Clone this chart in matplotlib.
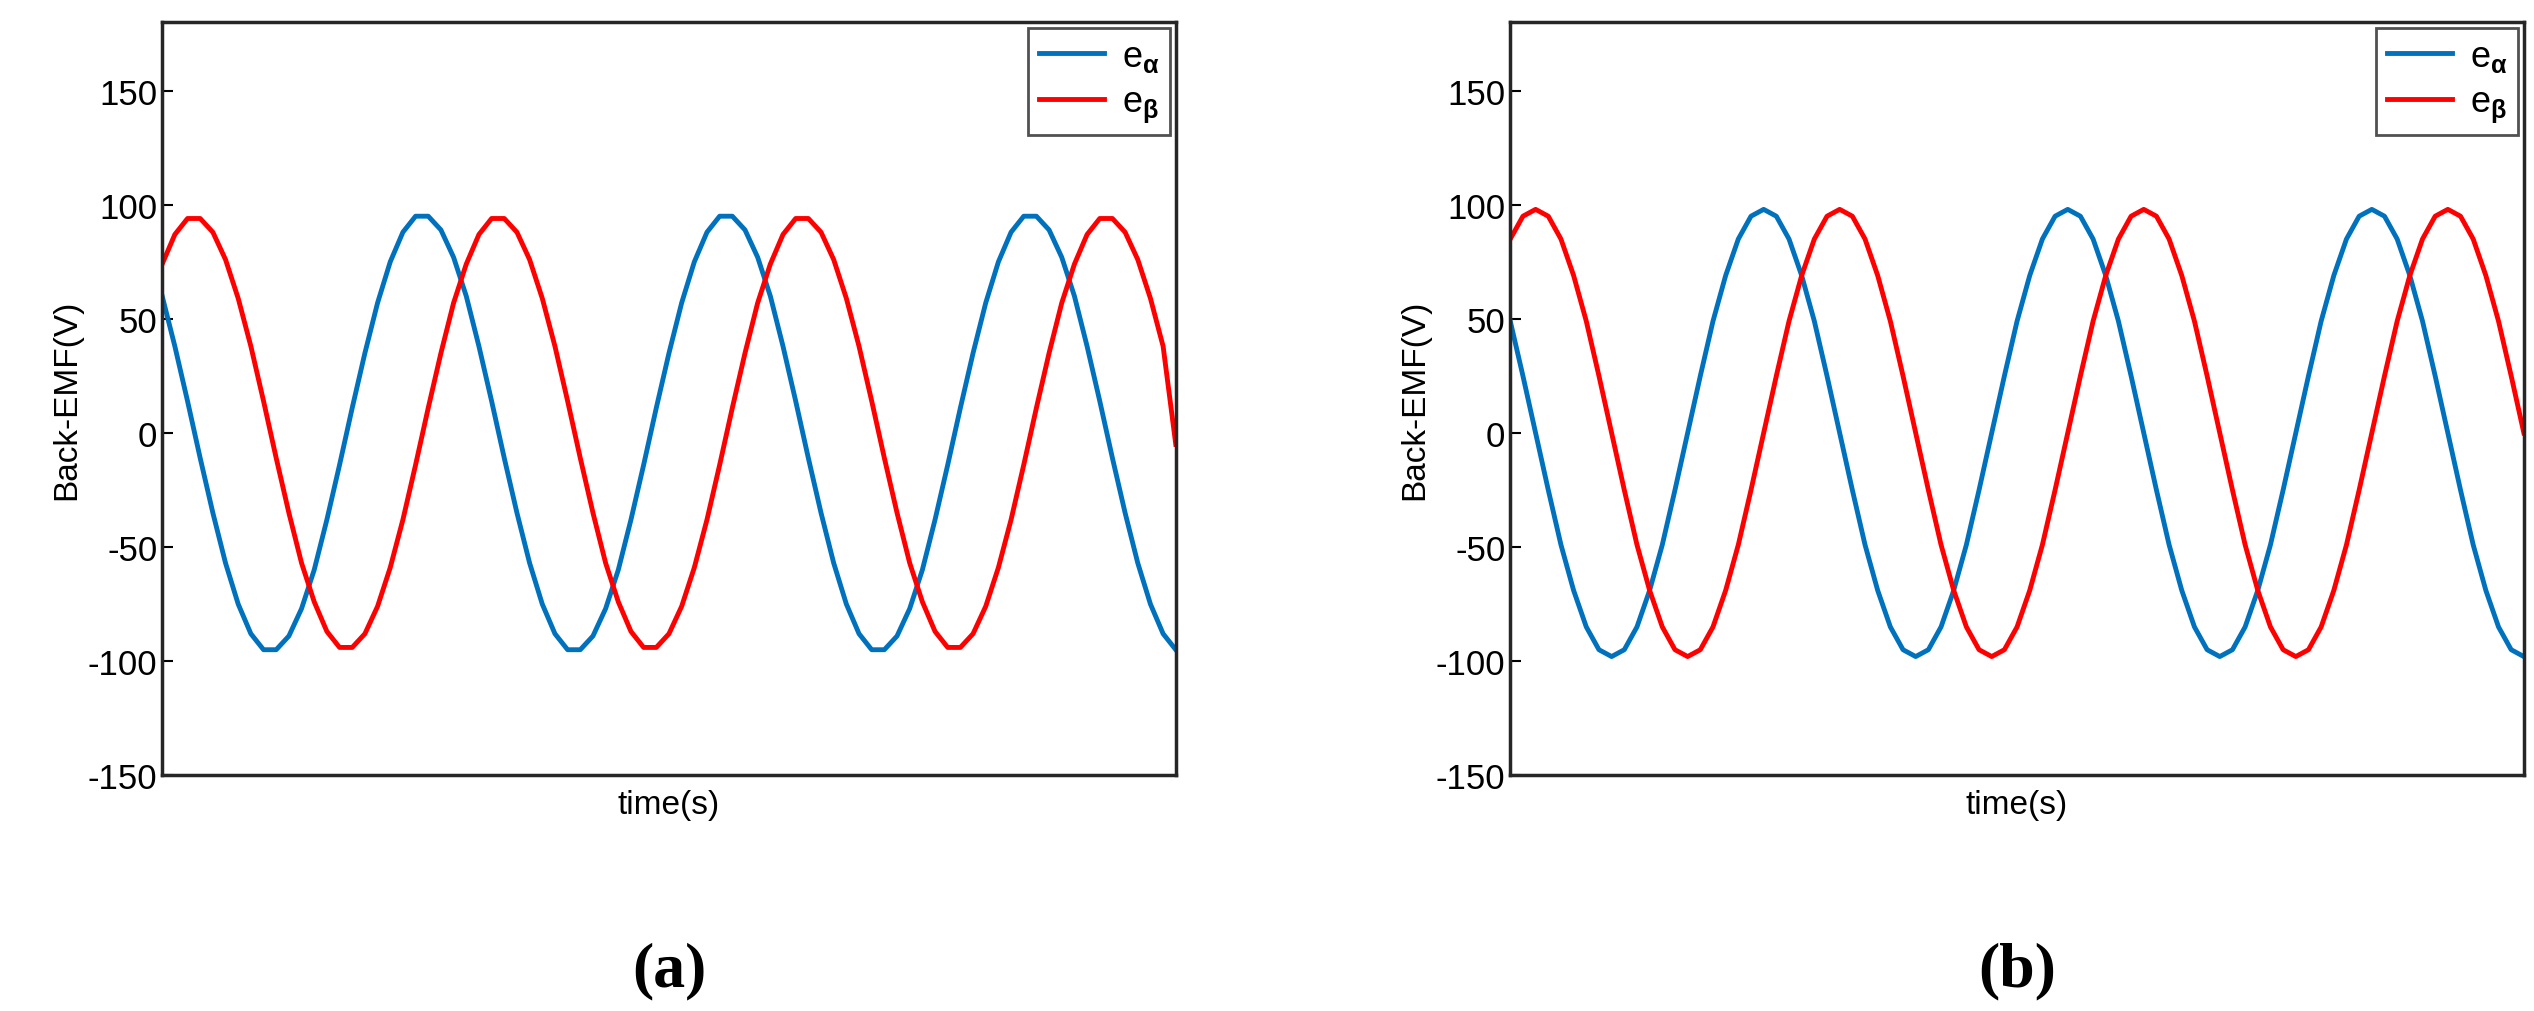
import matplotlib
matplotlib.use("Agg")
import matplotlib.pyplot as plt
import numpy as np

plt.rcParams['font.family'] = ['Liberation Sans', 'DejaVu Sans']
plt.rcParams['mathtext.fontset'] = 'custom'
plt.rcParams['mathtext.rm'] = 'Liberation Sans'
plt.rcParams['mathtext.it'] = 'Liberation Sans:bold'
plt.rcParams['axes.unicode_minus'] = False

# one cycle (24 samples), repeated over the window
cyc_blue_a = [60,38,14,-11,-35,-57,-75,-88,-95,-95,-89,-77,-60,-38,-14,11,35,57,75,88,95,95,89,77]
cyc_red_a = [74,87,94,94,88,76,59,38,14,-11,-35,-57,-74,-87,-94,-94,-88,-76,-59,-38,-14,11,35,57]
cyc_blue_b = [49,25,0,-25,-49,-69,-85,-95,-98,-95,-85,-69,-49,-25,0,25,49,69,85,95,98,95,85,69]
cyc_red_b = [85,95,98,95,85,69,49,25,0,-25,-49,-69,-85,-95,-98,-95,-85,-69,-49,-25,0,25,49,69]

blue_a = cyc_blue_a*3 + cyc_blue_a[:9]
red_a = cyc_red_a*3 + cyc_red_a[:8] + [-5]
blue_b = cyc_blue_b*3 + cyc_blue_b[:9]
red_b = cyc_red_b*3 + cyc_red_b[:9]
t = np.linspace(0, 1, len(blue_a))

yticks = [-150, -100, -50, 0, 50, 100, 150]
panels = [("(a)", blue_a, red_a), ("(b)", blue_b, red_b)]

fig = plt.figure(figsize=(25.34, 10.12), dpi=100)
lefts = [0.064, 0.596]
for (lab, b, r), left in zip(panels, lefts):
    ax = fig.add_axes([left, 0.233, 0.40, 0.744])
    ax.plot(t, b, color='#0072BD', lw=3.5, label=r'e$_{\alpha}$')
    ax.plot(t, r, color='#FF0000', lw=3.5, label=r'e$_{\beta}$')
    ax.set_xlim(0, 1)
    ax.set_ylim(-150, 180)
    ax.set_yticks(yticks)
    ax.set_xticks([])
    ax.tick_params(labelsize=25, direction='in', length=8, width=1.5, right=False)
    for s in ax.spines.values():
        s.set_linewidth(2.5)
        s.set_color('#262626')
    ax.set_ylabel('Back-EMF(V)', fontsize=24)
    ax.set_xlabel('time(s)', fontsize=24, labelpad=10)
    leg = ax.legend(loc='upper right', fontsize=26, frameon=True, fancybox=False,
                    edgecolor='#262626', handlelength=1.8, borderaxespad=0.15,
                    borderpad=0.3, labelspacing=0.3, handletextpad=0.5)
    leg.get_frame().set_linewidth(2)
    fig.text(left + 0.2, 0.04, lab, ha='center', va='center', fontsize=46,
             fontweight='bold', family='Liberation Serif')

fig.savefig('out.png', dpi=100)
